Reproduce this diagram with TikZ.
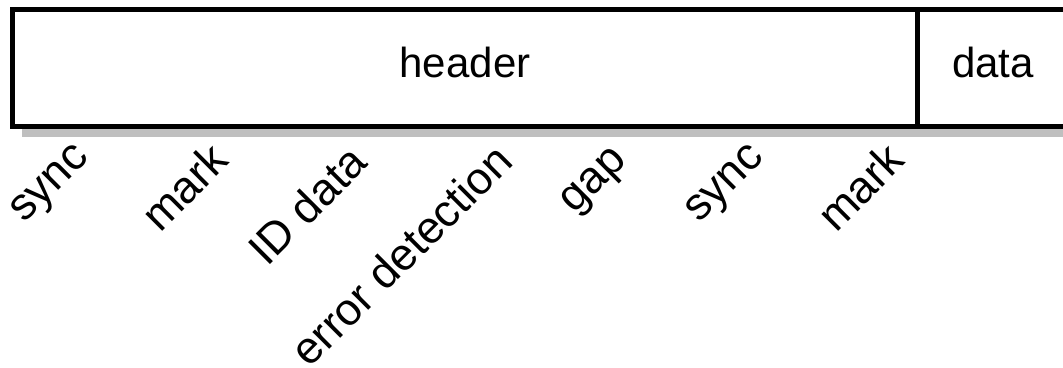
\documentclass[tikz,border=0pt]{standalone}
\usepackage{fontspec}
\setmainfont{Liberation Sans}
\begin{document}
\begin{tikzpicture}[x=1pt,y=-1pt,
  cell/.style={draw=black, line width=5pt, fill=white, inner sep=0pt,
    minimum height=117pt, text depth=12pt,
    font=\fontsize{42}{46}\selectfont},
  field/.style={rotate=45, inner sep=0pt, anchor=center,
    font=\fontsize{45}{50}\selectfont}]
  \clip (0,0) rectangle (1063,367);
  % drop shadow under the record
  \fill[black!25] (22,129) rectangle (1080,137);
  % the record: header cell and data cell
  \node[cell, minimum width=905pt] (header) at (465,68) {header};
  \node[cell, minimum width=151pt] (data) at (993,68) {data};
  % fields of the header, slanted
  \node[field] (sync1) at (52,186) {sync};
  \node[field] (mark1) at (184,187) {mark};
  \node[field] (id)    at (307,205) {ID data};
  \node[field] (err)   at (401,255) {error detection};
  \node[field] (gap)   at (596,183) {gap};
  \node[field] (sync2) at (727,186) {sync};
  \node[field] (mark2) at (860,187) {mark};
\end{tikzpicture}
\end{document}
